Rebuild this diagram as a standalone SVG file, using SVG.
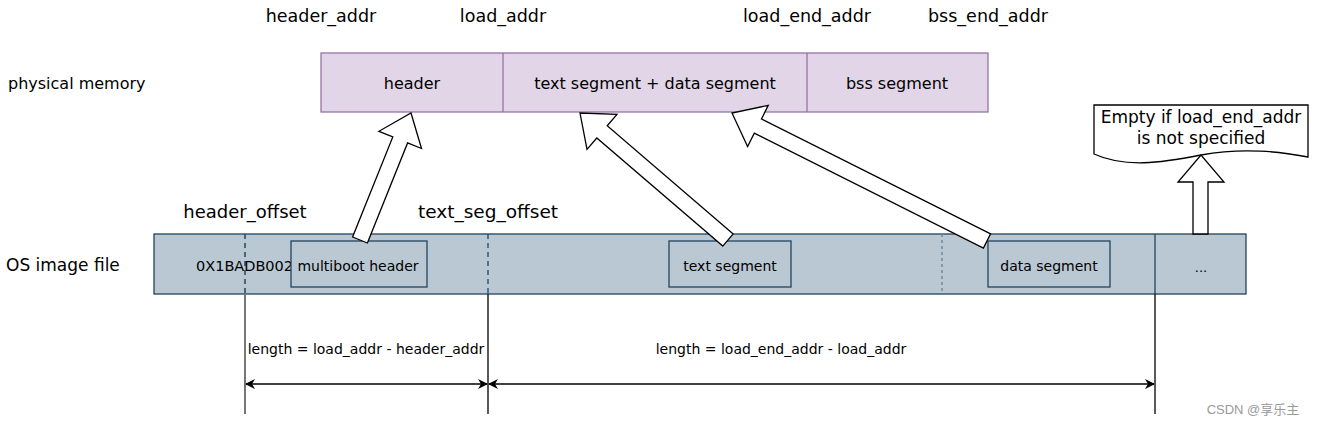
<svg xmlns="http://www.w3.org/2000/svg" width="1318" height="424" viewBox="0 0 1318 424">
<defs>
<marker id="ah" viewBox="0 0 10 10" refX="9" refY="5" markerWidth="10" markerHeight="10" markerUnits="userSpaceOnUse" orient="auto-start-reverse">
<path d="M0,0 L10,5 L0,10 L3,5 Z" fill="#000"/>
</marker>
</defs>
<style>
text{font-family:"DejaVu Sans","Liberation Sans",sans-serif;fill:#000}
.big{font-size:16px}
.top{font-size:17.5px}
.sm{font-size:14px}
.mid{text-anchor:middle}
.mem{fill:#e1d5e7;stroke:#9673a6;stroke-width:1.3}
.os{fill:#bac8d3;stroke:#23445d;stroke-width:1.3}
.blk{fill:#fff;stroke:#000;stroke-width:1.3;stroke-linejoin:miter}
.dim{stroke:#000;stroke-width:1.3;fill:none}
</style>
<rect width="1318" height="424" fill="#fff"/>
<g id="labels">
<text class="top mid" x="321" y="22">header_addr</text>
<text class="top mid" x="503" y="22">load_addr</text>
<text class="top mid" x="807" y="22">load_end_addr</text>
<text class="top mid" x="988" y="22">bss_end_addr</text>
<text class="big" x="8" y="89">physical memory</text>
<text class="big" x="6" y="271" style="font-size:17px">OS image file</text>
<text class="mid" x="245" y="218" style="font-size:18px">header_offset</text>
<text class="mid" x="488" y="218" style="font-size:18.5px">text_seg_offset</text>
</g>
<g id="physical-memory">
<rect class="mem" x="321" y="53" width="667" height="59"/>
<line x1="503" y1="53" x2="503" y2="112" stroke="#9673a6" stroke-width="1.3"/>
<line x1="807" y1="53" x2="807" y2="112" stroke="#9673a6" stroke-width="1.3"/>
<text class="big mid" x="412" y="89">header</text>
<text class="big mid" x="655" y="89">text segment + data segment</text>
<text class="big mid" x="897" y="89">bss segment</text>
</g>
<g id="os-image">
<rect class="os" x="154" y="234" width="1092" height="60"/>
<line x1="1155" y1="234" x2="1155" y2="294" stroke="#23445d" stroke-width="1.3"/>
<line x1="245" y1="234" x2="245" y2="294" stroke="#23445d" stroke-width="1.5" stroke-dasharray="5,4"/>
<line x1="488" y1="234" x2="488" y2="294" stroke="#23445d" stroke-width="1.3" stroke-dasharray="5,4"/>
<line x1="942" y1="234" x2="942" y2="294" stroke="#6d8aa3" stroke-width="1.5" stroke-dasharray="3,3"/>
<text class="sm" x="196" y="271" style="font-size:14.5px">0X1BADB002</text>
<text class="mid" x="1201" y="272" style="font-size:13px">...</text>
</g>
<g id="multiboot-header">
<rect class="os" x="291" y="241" width="136" height="46"/>
<text class="sm mid" x="358" y="271">multiboot header</text>
</g>
<g id="text-segment">
<rect class="os" x="669" y="241" width="122" height="46"/>
<text class="sm mid" x="730" y="271">text segment</text>
</g>
<g id="data-segment">
<rect class="os" x="988" y="241" width="122" height="46"/>
<text class="sm mid" x="1049" y="271">data segment</text>
</g>
<g id="note">
<path class="blk" d="M1094,105 H1308 V157 C1280,152 1245,147 1201,155 C1160,163 1125,168 1094,154 Z"/>
<text class="mid" x="1201" y="123" style="font-size:17px">Empty if load_end_addr</text>
<text class="mid" x="1201" y="144" style="font-size:17px">is not specified</text>
</g>
<g id="connectors">
<polygon class="blk" points="367.4,243 407.6,142.9 421.5,148.5 411,113 378.9,131.3 392.8,136.9 352.6,237"/>
<polygon class="blk" points="733.2,233.9 607.2,125.8 617,114.4 580,113 587,149.4 596.8,138 722.8,246.1"/>
<polygon class="blk" points="990.6,233.9 761.5,118.9 768.2,105.4 732,113 747.6,146.6 754.3,133.2 983.4,248.1"/>
<polygon class="blk" points="1193,234 1193,182 1178,182 1201,155 1224,182 1208,182 1208,234"/>
<line x1="245" y1="294" x2="245" y2="414" stroke="#777" stroke-width="2"/>
<line x1="488" y1="294" x2="488" y2="414" stroke="#000" stroke-width="1.3"/>
<line x1="1155" y1="294" x2="1155" y2="414" stroke="#000" stroke-width="1.3"/>
<line class="dim" x1="246" y1="384" x2="487" y2="384" marker-start="url(#ah)" marker-end="url(#ah)"/>
<line class="dim" x1="489" y1="384" x2="1154" y2="384" marker-start="url(#ah)" marker-end="url(#ah)"/>
<text class="sm mid" x="366" y="354">length = load_addr - header_addr</text>
<text class="sm mid" x="781" y="354">length = load_end_addr - load_addr</text>
</g>
<text x="1253" y="414" text-anchor="middle" style="font-family:'Liberation Sans','Noto Sans CJK SC',sans-serif;font-size:13px;fill:#999">CSDN @享乐主</text>
</svg>
